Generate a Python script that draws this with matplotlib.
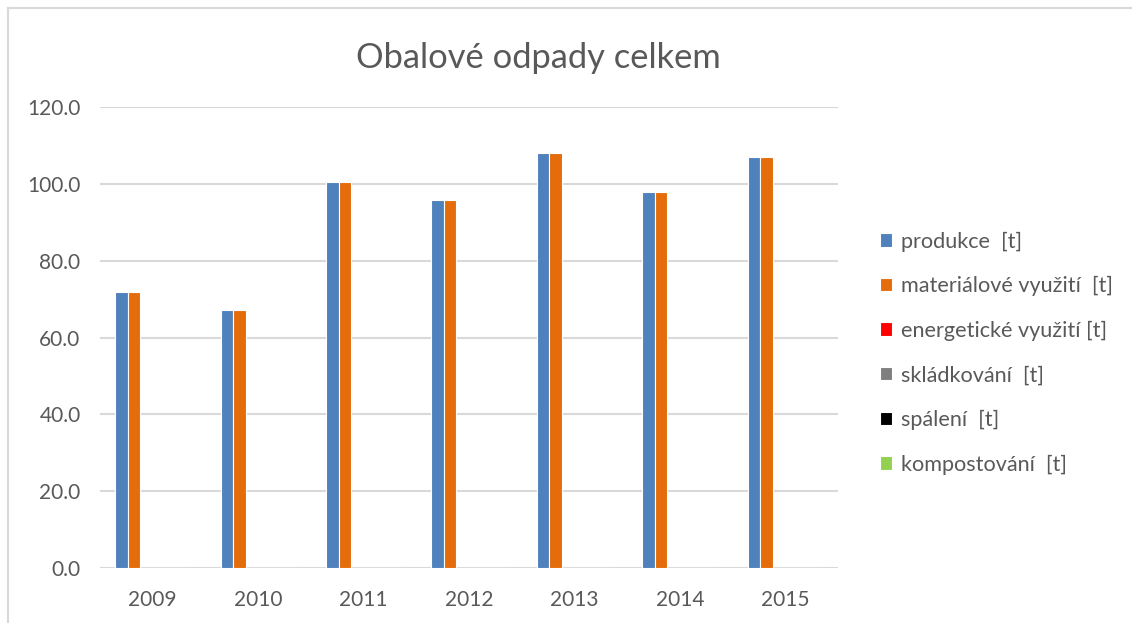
import numpy as np
import matplotlib.pyplot as plt
from matplotlib.lines import Line2D

# === Data ===
years = ['2009', '2010', '2011', '2012', '2013', '2014', '2015']
produkce = [71.9, 67.1, 100.4, 95.9, 108.1, 97.8, 106.9]
materialove = [71.9, 67.1, 100.4, 95.9, 108.1, 97.8, 106.9]
energeticke = [0, 0, 0, 0, 0, 0, 0]
skladkovani = [0, 0, 0, 0, 0, 0, 0]
spaleni = [0, 0, 0, 0, 0, 0, 0]
kompostovani = [0, 0, 0, 0, 0, 0, 0]

series = [
    ('produkce  [t]', produkce, '#4f81bd'),
    ('materiálové využití  [t]', materialove, '#e46c0a'),
    ('energetické využití [t]', energeticke, '#ff0000'),
    ('skládkování  [t]', skladkovani, '#7f7f7f'),
    ('spálení  [t]', spaleni, '#000000'),
    ('kompostování  [t]', kompostovani, '#92d050'),
]

plt.rcParams['font.family'] = ['Lato', 'DejaVu Sans']
txt = '#595959'

fig = plt.figure(figsize=(11.32, 6.23), dpi=100)
ax = fig.add_axes([100 / 1132, 55 / 623, 738 / 1132, 461 / 623])

# chart border: only left and top edges show in the crop
bx, by = 8 / 1132, 1 - 8 / 623
fig.add_artist(Line2D([bx, bx], [0, by], transform=fig.transFigure, color='#d9d9d9', lw=1.5))
fig.add_artist(Line2D([bx, 1], [by, by], transform=fig.transFigure, color='#d9d9d9', lw=1.5))

x = np.arange(len(years))
w = 0.1186
n = len(series)
handles = []
for i, (name, vals, col) in enumerate(series):
    off = (i - (n - 1) / 2) * w
    b = ax.bar(x + off, vals, width=w, color=col, edgecolor='white', linewidth=0.8,
               label=name, zorder=3)
    handles.append(b)

ax.set_xlim(-0.5, len(years) - 0.5)
ax.set_ylim(0, 120)
ax.set_yticks(np.arange(0, 121, 20))
ax.set_yticklabels([f'{v:.1f}' for v in np.arange(0, 121, 20)])
ax.set_xticks(x)
ax.set_xticklabels(years)
ax.grid(axis='y', color='#d9d9d9', linewidth=1.5, zorder=0)
for s in ax.spines.values():
    s.set_visible(False)
ax.tick_params(axis='both', length=0, labelsize=15, colors=txt)
ax.tick_params(axis='y', pad=14)
ax.tick_params(axis='x', pad=16)

fig.text(538 / 1132, 1 - 58 / 623, 'Obalové odpady celkem', ha='center', va='center',
         fontsize=24.8, color=txt)

leg = fig.legend(handles=handles, loc='center left', bbox_to_anchor=(860 / 1132, 1 - 353 / 623),
                 frameon=False, fontsize=15.6, handlelength=0.58, handleheight=0.58,
                 handletextpad=0.42, labelspacing=1.13, labelcolor=txt)

fig.savefig('out.png', dpi=100)
